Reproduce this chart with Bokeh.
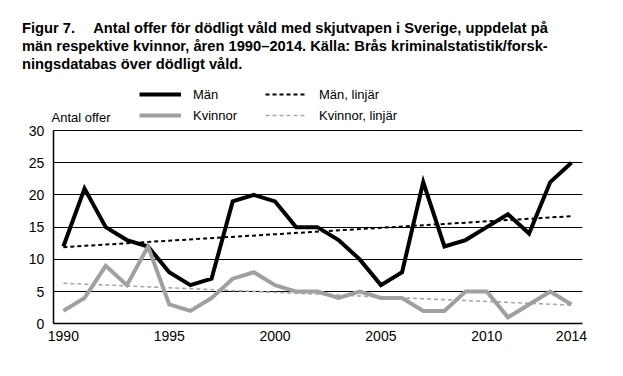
from bokeh.plotting import figure
from bokeh.models import Range1d, FixedTicker, Legend, LegendItem, Label
from bokeh.embed import file_html
from bokeh.resources import INLINE

years = list(range(1990, 2015))
men = [12, 21, 15, 13, 12, 8, 6, 7, 19, 20, 19, 15, 15, 13, 10, 6, 8, 22, 12, 13, 15, 17, 14, 22, 25]
women = [2, 4, 9, 6, 12, 3, 2, 4, 7, 8, 6, 5, 5, 4, 5, 4, 4, 2, 2, 5, 5, 1, 3, 5, 3]
trend_years = [1990, 2014]
men_trend = [11.9, 16.7]
women_trend = [6.3, 2.9]
x_ticks = [1990, 1995, 2000, 2005, 2010, 2014]
y_ticks = [0, 5, 10, 15, 20, 25, 30]
title_lines = [
    "Figur 7.\u2003 Antal offer för dödligt våld med skjutvapen i Sverige, uppdelat på",
    "män respektive kvinnor, åren 1990–2014. Källa: Brås kriminalstatistik/forsk-",
    "ningsdatabas över dödligt våld.",
]
y_title = "Antal offer"
labels = ["Män", "Kvinnor", "Män, linjär", "Kvinnor, linjär"]

FONT = "Liberation Sans"
H = 376
X0, X1 = 1989.52, 2014.52

p = figure(width=623, height=H, output_backend="svg", toolbar_location=None,
           x_range=Range1d(1987.03, 2016.46), y_range=Range1d(-8.18, 50.18),
           min_border_left=0, min_border_right=0, min_border_top=0, min_border_bottom=0)
p.outline_line_color = None
p.background_fill_color = "white"
p.border_fill_color = "white"

# grid
p.xgrid.grid_line_color = None
p.ygrid.ticker = FixedTicker(ticks=y_ticks[1:])
p.ygrid.cross_bounds = (X0, X1)
p.ygrid.grid_line_color = "black"
p.ygrid.grid_line_width = 1

# axes
p.yaxis.ticker = FixedTicker(ticks=y_ticks)
p.yaxis.bounds = (0, 30)
p.yaxis.fixed_location = X0
p.xaxis.ticker = FixedTicker(ticks=x_ticks)
p.xaxis.bounds = (X0, X1)
p.xaxis.fixed_location = 0
for ax in (p.xaxis, p.yaxis):
    ax.major_tick_out = 0
    ax.major_tick_in = 0
    ax.minor_tick_out = 0
    ax.minor_tick_in = 0
    ax.axis_line_color = "black"
    ax.axis_line_width = 1.5
    ax.major_label_text_font = FONT
    ax.major_label_text_font_size = "14px"
    ax.major_label_text_color = "black"
p.yaxis.major_label_standoff = 9
p.xaxis.major_label_standoff = 7

r_mt = p.line(trend_years, men_trend, line_color="black", line_width=2, line_dash="4 3")
r_wt = p.line(trend_years, women_trend, line_color="#a8a8a8", line_width=1.6, line_dash="4 3")
r_m = p.line(years, men, line_color="black", line_width=4, line_join="miter")
r_w = p.line(years, women, line_color="#a0a0a0", line_width=4, line_join="miter")

legend = Legend(items=[
    LegendItem(label=labels[0], renderers=[r_m]),
    LegendItem(label=labels[1], renderers=[r_w]),
    LegendItem(label=labels[2], renderers=[r_mt]),
    LegendItem(label=labels[3], renderers=[r_wt]),
], location=(139, H - 125), orientation="vertical", nrows=2)
legend.border_line_color = None
legend.background_fill_alpha = 0
legend.padding = 0
legend.margin = 0
legend.spacing = 1
legend.glyph_width = 42
legend.glyph_height = 20
legend.label_height = 20
legend.label_width = 71
legend.label_standoff = 12
legend.label_text_font = FONT
legend.label_text_font_size = "13px"
legend.label_text_color = "black"
p.add_layout(legend, "center")

p.add_layout(Label(x=51, y=H - 117, x_units="screen", y_units="screen", text=y_title,
                   text_font=FONT, text_font_size="13px", text_color="black",
                   text_baseline="alphabetic"))

baselines = [27, 45.2, 63.4]
for line, b in zip(title_lines, baselines):
    p.add_layout(Label(x=21.5, y=H - b, x_units="screen", y_units="screen", text=line,
                       text_font=FONT, text_font_size="14.7px", text_font_style="bold",
                       text_color="black", text_baseline="alphabetic"))

open("out.html", "w").write(file_html(p, INLINE))
